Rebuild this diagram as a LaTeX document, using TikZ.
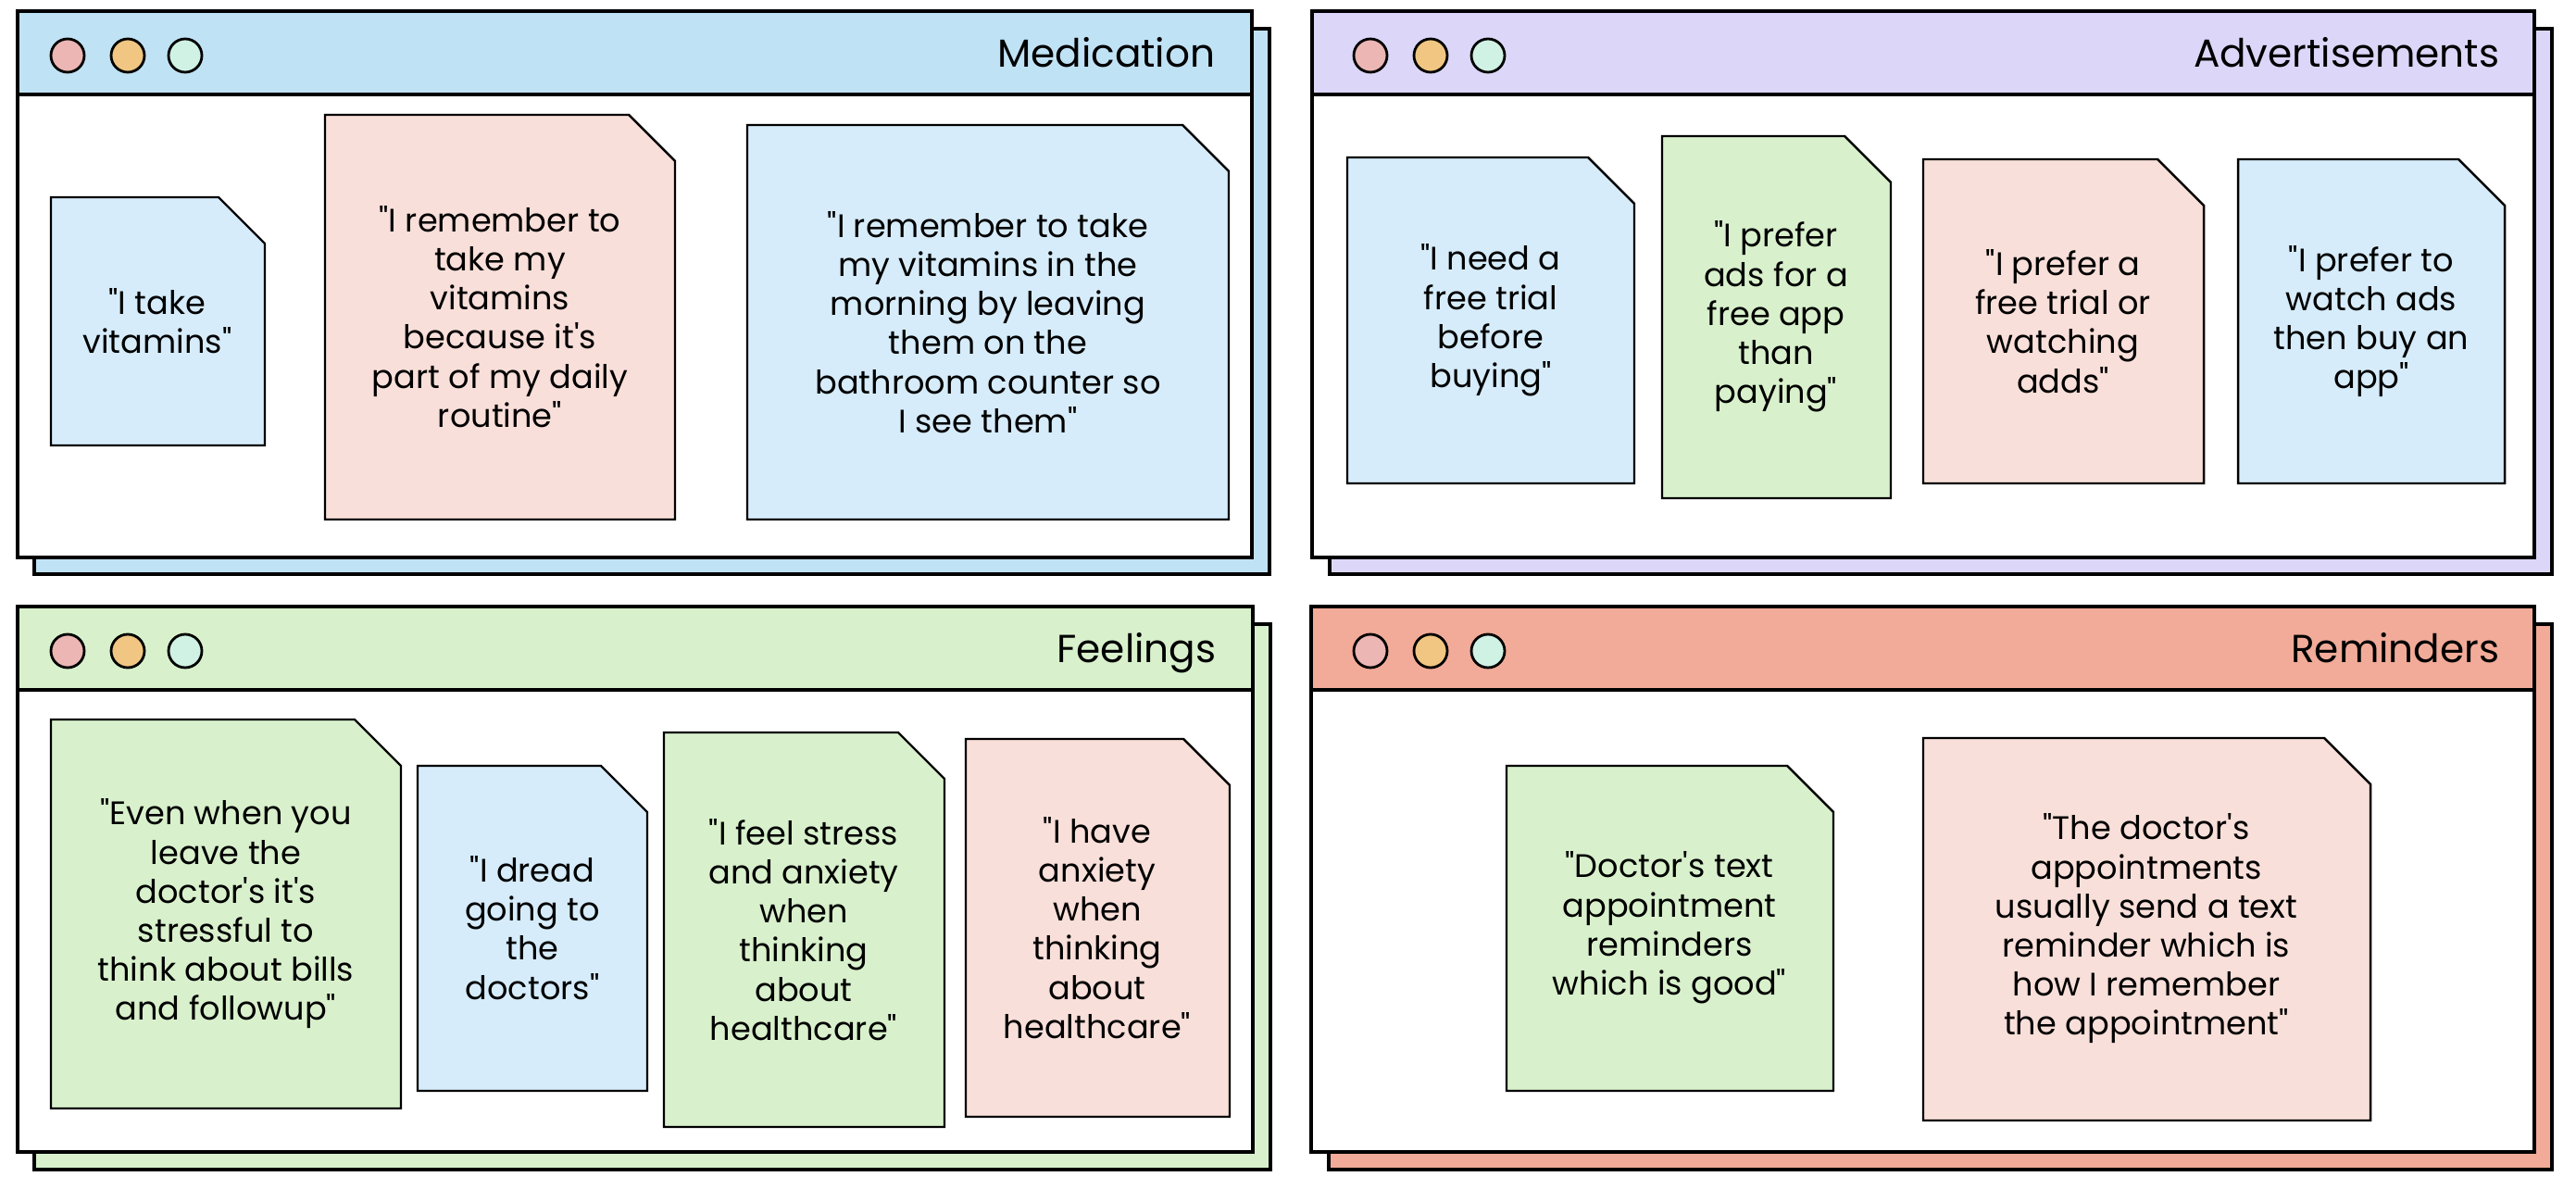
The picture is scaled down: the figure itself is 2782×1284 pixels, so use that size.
\documentclass[tikz,border=0pt]{standalone}
\usepackage{fontspec}
\setmainfont{Poppins}[Ligatures=TeXOff]
\usetikzlibrary{positioning}

\definecolor{medblue}{HTML}{C0E2F5}
\definecolor{advlilac}{HTML}{DCD6F8}
\definecolor{feelgreen}{HTML}{D8F1CC}
\definecolor{remsalmon}{HTML}{F1AB98}
\definecolor{noteblue}{HTML}{D6ECFA}
\definecolor{notepink}{HTML}{F9DFD9}
\definecolor{notegreen}{HTML}{D8F1CC}
\definecolor{dotred}{HTML}{EBB6B4}
\definecolor{dotorange}{HTML}{F0C682}
\definecolor{dotmint}{HTML}{D0F2E5}

\begin{document}
\begin{tikzpicture}%
        [x=0.1mm, y=-0.1mm,
        back/.style={draw=black, line width=1.2pt},
        frame/.style={draw=black, fill=white, line width=1.2pt},
        bar/.style={draw=black, line width=1.2pt},
        note/.style={draw=black, line width=0.7pt},
        quote/.style={align=center, font=\fontsize{10}{12}\selectfont, inner sep=0pt},
        heading/.style={anchor=base east, font=\fontsize{12}{14}\selectfont, inner sep=0pt},
        dot/.style={circle, draw=black, line width=0.8pt, minimum size=3.6mm, inner sep=0pt}]

    \useasboundingbox (0,0) rectangle (2782,1284);

    %% Medication window
    \draw[back, fill=medblue] (37,31) rectangle (1371,620);
    \draw[frame] (19,12) rectangle (1352,602);
    \draw[bar, fill=medblue] (19,12) rectangle (1352,102);
    \node[dot, fill=dotred] (med-r) at (73,60) {};
    \node[dot, fill=dotorange] (med-o) at (138,60) {};
    \node[dot, fill=dotmint] (med-g) at (200,60) {};
    \node[heading] (med) at (1313,73) {Medication};
    %% Medication notes
    \draw[note, fill=noteblue] (55,213) -- (236,213) -- (286,263) -- (286,481) -- (55,481) -- cycle;
    \node[quote] (m1) at (170,347) {"I take\\vitamins"};
    \draw[note, fill=notepink] (351,124) -- (679,124) -- (729,174) -- (729,561) -- (351,561) -- cycle;
    \node[quote] (m2) at (540,342) {"I remember to\\take my\\vitamins\\because it's\\part of my daily\\routine"};
    \draw[note, fill=noteblue] (807,135) -- (1277,135) -- (1327,185) -- (1327,561) -- (807,561) -- cycle;
    \node[quote] (m3) at (1067,348) {"I remember to take\\my vitamins in the\\morning by leaving\\them on the\\bathroom counter so\\I see them"};

    %% Advertisements window
    \draw[back, fill=advlilac] (1436,31) rectangle (2756,620);
    \draw[frame] (1417,12) rectangle (2737,602);
    \draw[bar, fill=advlilac] (1417,12) rectangle (2737,102);
    \node[dot, fill=dotred] (adv-r) at (1480,60) {};
    \node[dot, fill=dotorange] (adv-o) at (1545,60) {};
    \node[dot, fill=dotmint] (adv-g) at (1607,60) {};
    \node[heading] (adv) at (2700,73) {Advertisements};
    %% Advertisements notes
    \draw[note, fill=noteblue] (1455,170) -- (1715,170) -- (1765,220) -- (1765,522) -- (1455,522) -- cycle;
    \node[quote] (a1) at (1610,346) {"I need a\\free trial\\before\\buying"};
    \draw[note, fill=notegreen] (1795,147) -- (1992,147) -- (2042,197) -- (2042,538) -- (1795,538) -- cycle;
    \node[quote] (a2) at (1918,342) {"I prefer\\ads for a\\free app\\than\\paying"};
    \draw[note, fill=notepink] (2077,172) -- (2330,172) -- (2380,222) -- (2380,522) -- (2077,522) -- cycle;
    \node[quote] (a3) at (2228,347) {"I prefer a\\free trial or\\watching\\adds"};
    \draw[note, fill=noteblue] (2417,172) -- (2655,172) -- (2705,222) -- (2705,522) -- (2417,522) -- cycle;
    \node[quote] (a4) at (2561,347) {"I prefer to\\watch ads\\then buy an\\app"};

    %% Feelings window
    \draw[back, fill=feelgreen] (37,674) rectangle (1372,1263);
    \draw[frame] (19,655) rectangle (1353,1244);
    \draw[bar, fill=feelgreen] (19,655) rectangle (1353,745);
    \node[dot, fill=dotred] (feel-r) at (73,703) {};
    \node[dot, fill=dotorange] (feel-o) at (138,703) {};
    \node[dot, fill=dotmint] (feel-g) at (200,703) {};
    \node[heading] (feel) at (1314,716) {Feelings};
    %% Feelings notes
    \draw[note, fill=notegreen] (55,777) -- (383,777) -- (433,827) -- (433,1197) -- (55,1197) -- cycle;
    \node[quote] (f1) at (244,987) {"Even when you\\leave the\\doctor's it's\\stressful to\\think about bills\\and followup"};
    \draw[note, fill=noteblue] (451,827) -- (649,827) -- (699,877) -- (699,1178) -- (451,1178) -- cycle;
    \node[quote] (f2) at (575,1002) {"I dread\\going to\\the\\doctors"};
    \draw[note, fill=notegreen] (717,791) -- (970,791) -- (1020,841) -- (1020,1217) -- (717,1217) -- cycle;
    \node[quote] (f3) at (868,1004) {"I feel stress\\and anxiety\\when\\thinking\\about\\healthcare"};
    \draw[note, fill=notepink] (1043,798) -- (1278,798) -- (1328,848) -- (1328,1206) -- (1043,1206) -- cycle;
    \node[quote] (f4) at (1185,1002) {"I have\\anxiety\\when\\thinking\\about\\healthcare"};

    %% Reminders window
    \draw[back, fill=remsalmon] (1435,674) rectangle (2756,1263);
    \draw[frame] (1416,655) rectangle (2737,1244);
    \draw[bar, fill=remsalmon] (1416,655) rectangle (2737,745);
    \node[dot, fill=dotred] (rem-r) at (1480,703) {};
    \node[dot, fill=dotorange] (rem-o) at (1545,703) {};
    \node[dot, fill=dotmint] (rem-g) at (1607,703) {};
    \node[heading] (rem) at (2700,716) {Reminders};
    %% Reminders notes
    \draw[note, fill=notegreen] (1627,827) -- (1930,827) -- (1980,877) -- (1980,1178) -- (1627,1178) -- cycle;
    \node[quote] (r1) at (1803,1002) {"Doctor's text\\appointment\\reminders\\which is good"};
    \draw[note, fill=notepink] (2077,797) -- (2510,797) -- (2560,847) -- (2560,1210) -- (2077,1210) -- cycle;
    \node[quote] (r2) at (2318,1003) {"The doctor's\\appointments\\usually send a text\\reminder which is\\how I remember\\the appointment"};
    %%
\end{tikzpicture}
\end{document}
